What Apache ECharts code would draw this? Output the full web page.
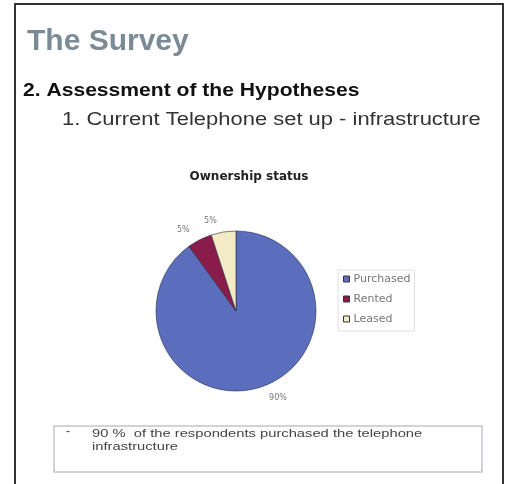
<!DOCTYPE html>
<html>
<head>
<meta charset="utf-8">
<script src="https://cdn.jsdelivr.net/npm/echarts@6/dist/echarts.min.js"></script>
<style>
  html, body { margin: 0; padding: 0; background: #fff; }
  #chart { width: 507px; height: 484px; }
</style>
</head>
<body>
<div id="chart"></div>
<script>
const categories = ['Purchased', 'Rented', 'Leased'];
const shares = [90, 5, 5];
const sliceColors = ['#5b6ebd', '#8a1c4b', '#f3ebc6'];

const chart = echarts.init(document.getElementById('chart'));

const option = {
    backgroundColor: '#fff',
    animation: false,
    title: {
        text: 'Ownership status',
        left: 244,
        top: 166,
        textAlign: 'center',
        textStyle: {
            fontFamily: 'DejaVu Sans',
            fontSize: 12,
            fontWeight: 'bold',
            color: '#222'
        }
    },
    legend: {
        orient: 'vertical',
        left: 338,
        top: 270,
        data: categories,
        icon: 'rect',
        itemWidth: 6,
        itemHeight: 6,
        itemGap: 6,
        padding: [2, 4, 5, 5],
        borderColor: '#e0e0e0',
        borderWidth: 1,
        itemStyle: {
            borderColor: '#333',
            borderWidth: 1
        },
        textStyle: {
            fontFamily: 'DejaVu Sans',
            fontSize: 11,
            lineHeight: 14,
            color: '#777',
            padding: [0, 0, 0, -1]
        }
    },
    // Slide frame and text
    graphic: [
        {
            type: 'rect',
            shape: { x: 15, y: 4, width: 488, height: 490 },
            style: { fill: 'none', stroke: '#333', lineWidth: 2 }
        },
        {
            type: 'rect',
            shape: { x: 54, y: 426, width: 428, height: 46 },
            style: { fill: '#fff', stroke: '#c4c4d0', lineWidth: 1.5 }
        },
        {
            type: 'text',
            left: 27,
            top: 27,
            style: {
                text: 'The Survey',
                fontFamily: 'Liberation Sans',
                fontSize: 30,
                fontWeight: 'bold',
                fill: '#7a8b96'
            }
        },
        {
            type: 'text',
            left: 23,
            top: 81,
            scaleX: 1.11,
            style: {
                text: '2. Assessment of the Hypotheses',
                fontFamily: 'Liberation Sans',
                fontSize: 19,
                fontWeight: 'bold',
                fill: '#111'
            }
        },
        {
            type: 'text',
            left: 62,
            top: 111,
            scaleX: 1.22,
            style: {
                text: '1. Current Telephone set up - infrastructure',
                fontFamily: 'Liberation Sans',
                fontSize: 18,
                fill: '#333'
            }
        },
        {
            type: 'text',
            left: 66,
            top: 426,
            style: {
                text: '-',
                fontFamily: 'Liberation Sans',
                fontSize: 12,
                fill: '#444'
            }
        },
        {
            type: 'text',
            left: 92,
            top: 427,
            scaleX: 1.34,
            style: {
                text: '90 %  of the respondents purchased the telephone\ninfrastructure',
                fontFamily: 'Liberation Sans',
                fontSize: 11,
                lineHeight: 13,
                fill: '#444'
            }
        }
    ],
    series: [{
        type: 'pie',
        center: [236, 311],
        radius: 80,
        startAngle: 90,
        clockwise: true,
        avoidLabelOverlap: false,
        data: categories.map((name, i) => ({
            name: name,
            value: shares[i],
            itemStyle: { color: sliceColors[i] }
        })),
        itemStyle: {
            borderColor: '#2a2a40',
            borderWidth: 0.6
        },
        label: {
            position: 'outside',
            formatter: '{d}%',
            fontFamily: 'DejaVu Sans',
            fontSize: 8,
            color: '#777'
        },
        labelLine: {
            show: false,
            length: 11,
            length2: 0
        }
    }]
};

chart.setOption(option);
</script>
</body>
</html>
